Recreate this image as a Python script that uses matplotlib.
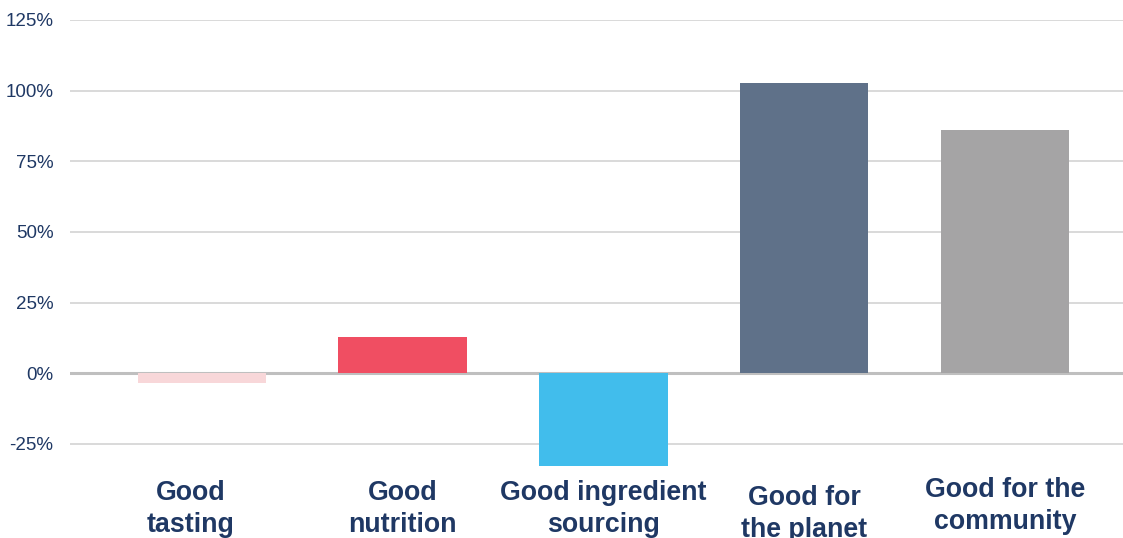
import numpy as np
import matplotlib.pyplot as plt
from matplotlib.ticker import FuncFormatter

categories = ['Good\ntasting', 'Good\nnutrition', 'Good ingredient\nsourcing',
              'Good for\nthe planet', 'Good for the\ncommunity']
values = [-3.5, 12.7, -32.8, 102.8, 86.2]
colors = ['#F8D7D9', '#F04E62', '#41BDEC', '#5F7189', '#A5A4A5']
yticks = [-25, 0, 25, 50, 75, 100, 125]

# small per-label nudges (pixels) to follow the original layout
label_dx = [-11, 0, 0, 0, 0]
label_dy = [-37, -37, -37, -42, -34]

navy = '#1F3864'
plt.rcParams['font.family'] = ['Liberation Sans', 'DejaVu Sans']

fig = plt.figure(figsize=(11.23, 5.38), dpi=100)
ax = fig.add_axes([70 / 1123, 1 - 472 / 538, 1 - 70 / 1123, (472 - 20) / 538])

x = np.arange(len(categories))
ax.bar(x, values, width=0.64, color=colors, zorder=3)

ax.set_ylim(-35, 125)
ax.set_xlim(-0.657, 4.588)
ax.set_yticks(yticks)
ax.yaxis.set_major_formatter(FuncFormatter(lambda v, p: '{:.0f}%'.format(v)))
ax.tick_params(axis='y', length=0, labelsize=13.5, labelcolor=navy, pad=12)
ax.set_xticks([])
for s in ax.spines.values():
    s.set_visible(False)

for t in yticks:
    if t == 0:
        ax.axhline(t, color='#BFBFBF', lw=2.2, zorder=2)
    else:
        ax.axhline(t, color='#D9D9D9', lw=1.4, zorder=1)

for i, lab in enumerate(categories):
    ax.annotate(lab, xy=(i, -35), xycoords='data',
                xytext=(label_dx[i], label_dy[i]), textcoords='offset pixels',
                ha='center', va='center', fontsize=19.3, fontweight='bold',
                color=navy, linespacing=1.28, annotation_clip=False)

fig.savefig('out.png', dpi=100)
